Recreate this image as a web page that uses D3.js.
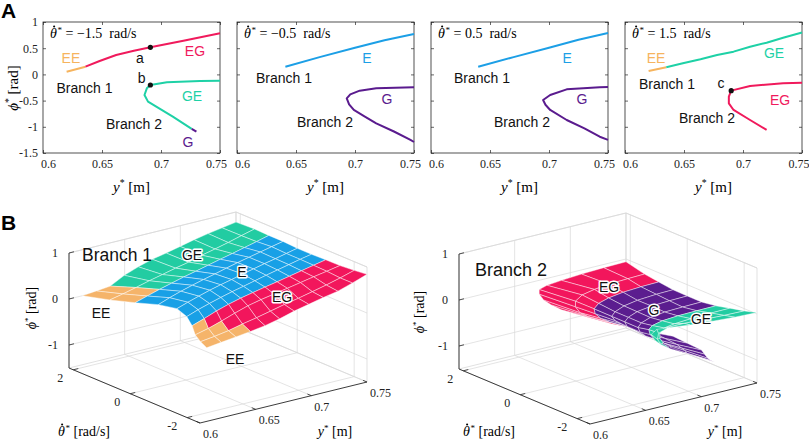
<!DOCTYPE html>
<html>
<head>
<meta charset="utf-8">
<script src="https://cdn.jsdelivr.net/npm/d3@7"></script>
<style>
  body { margin: 0; background: #fff; }
</style>
</head>
<body>
<svg id="fig" width="809" height="441"></svg>
<script>
// ---------- Panel A data (y* [m], phi* [rad]) ----------
const thetaPanels = [-1.5, -0.5, 0.5, 1.5];
const xTicksA = [0.6, 0.65, 0.7, 0.75];
const yTicksA = [1, 0.5, 0, -0.5, -1, -1.5];

const p1EE = [[0.620, 0.052], [0.636, 0.147]];
const p1EG = [[0.636, 0.147], [0.648, 0.256], [0.662, 0.370], [0.677, 0.453], [0.691, 0.517], [0.719, 0.644], [0.750, 0.784]];
const p1GE = [[0.750, -0.120], [0.733, -0.126], [0.705, -0.151], [0.691, -0.202], [0.688, -0.266], [0.686, -0.393], [0.689, -0.520], [0.696, -0.616], [0.710, -0.807], [0.726, -1.040]];
const p1G = [[0.726, -1.040], [0.730, -1.094]];
const p2E = [[0.641, 0.147], [0.670, 0.330], [0.700, 0.510], [0.725, 0.650], [0.750, 0.770]];
const p2G = [[0.750, -0.245], [0.718, -0.266], [0.704, -0.310], [0.696, -0.380], [0.693, -0.456], [0.695, -0.570], [0.699, -0.679], [0.708, -0.800], [0.718, -0.933], [0.733, -1.090], [0.747, -1.250], [0.750, -1.290]];
const p3E = [[0.640, 0.147], [0.670, 0.330], [0.700, 0.510], [0.725, 0.660], [0.750, 0.790]];
const p3G = [[0.750, -0.240], [0.743, -0.246], [0.715, -0.285], [0.701, -0.393], [0.695, -0.489], [0.697, -0.580], [0.701, -0.679], [0.715, -0.870], [0.730, -1.030], [0.743, -1.189], [0.750, -1.250]];
const p4EE = [[0.620, 0.065], [0.635, 0.135]];
const p4GE = [[0.635, 0.135], [0.649, 0.212], [0.664, 0.288], [0.678, 0.370], [0.692, 0.434], [0.706, 0.529], [0.720, 0.605], [0.734, 0.700], [0.750, 0.800]];
const p4EG = [[0.750, -0.158], [0.734, -0.170], [0.706, -0.221], [0.690, -0.310], [0.688, -0.425], [0.688, -0.552], [0.692, -0.679], [0.706, -0.870], [0.720, -1.060]];

const panelSeries = [
  [[p1EE, 'EE'], [p1EG, 'EG'], [p1GE, 'GE'], [p1G, 'G']],
  [[p2E, 'E'], [p2G, 'G']],
  [[p3E, 'E'], [p3G, 'G']],
  [[p4EE, 'EE'], [p4GE, 'GE'], [p4EG, 'EG']]
];

// marked points a, b, c
const markPanel = [0, 0, 3];
const markY = [0.691, 0.691, 0.690];
const markPhi = [0.517, -0.202, -0.310];

// text annotations in panel A (placed in data units)
const annPanel = [0, 0, 0, 0, 0, 0, 0, 0, 1, 1, 1, 1, 2, 2, 2, 2, 3, 3, 3, 3, 3, 3];
const annText = ['EE', 'EG', 'a', 'b', 'Branch 1', 'GE', 'Branch 2', 'G', 'E', 'Branch 1', 'G', 'Branch 2',
  'E', 'Branch 1', 'G', 'Branch 2', 'EE', 'GE', 'Branch 1', 'c', 'EG', 'Branch 2'];
const annY = [0.6237, 0.7288, 0.6822, 0.6836, 0.6352, 0.7263, 0.6771, 0.7229, 0.7102, 0.6398, 0.7271, 0.6746,
  0.7153, 0.6432, 0.728, 0.6771, 0.6263, 0.7263, 0.6356, 0.6814, 0.7314, 0.6695];
const annPhi = [0.313, 0.447, 0.313, -0.069, -0.26, -0.412, -0.947, -1.29, 0.313, -0.069, -0.47, -0.908,
  0.313, -0.069, -0.47, -0.908, 0.313, 0.408, -0.183, -0.164, -0.489, -0.832];

// ---------- Panel B data ----------
const thetaRows = [2.15, 1.5, 1.0, 0.5, 0, -0.5, -1.0, -1.5, -2.0, -2.45];
const zTicksB = [-1, 0, 1];
const tTicksB = [-2, 0, 2];
const yTicksB = [0.6, 0.65, 0.7, 0.75];

// Branch 1: each row starts at b1YStart and runs to 0.75 in 12 even steps
const b1YStart = [0.612, 0.620, 0.630, 0.638, 0.642, 0.638, 0.630, 0.620, 0.612, 0.606];
const b1Phi = [
  [0.00, 0.03, 0.06, 0.22, 0.33, 0.42, 0.48, 0.55, 0.62, 0.68, 0.73, 0.78],
  [0.03, 0.09, 0.16, 0.235, 0.30, 0.37, 0.43, 0.51, 0.575, 0.645, 0.725, 0.80],
  [0.04, 0.12, 0.20, 0.27, 0.34, 0.40, 0.465, 0.53, 0.59, 0.655, 0.72, 0.79],
  [0.08, 0.17, 0.25, 0.32, 0.385, 0.445, 0.51, 0.57, 0.625, 0.68, 0.735, 0.79],
  [0.10, 0.18, 0.255, 0.325, 0.385, 0.44, 0.50, 0.555, 0.61, 0.66, 0.715, 0.77],
  [0.08, 0.17, 0.245, 0.315, 0.38, 0.435, 0.495, 0.555, 0.61, 0.665, 0.72, 0.77],
  [0.06, 0.15, 0.25, 0.33, 0.40, 0.455, 0.51, 0.56, 0.615, 0.67, 0.725, 0.78],
  [0.05, 0.12, 0.21, 0.31, 0.40, 0.465, 0.517, 0.57, 0.625, 0.68, 0.73, 0.784],
  [0.08, 0.12, 0.17, 0.24, 0.30, 0.37, 0.44, 0.50, 0.57, 0.64, 0.72, 0.81],
  [0.10, 0.14, 0.18, 0.22, 0.27, 0.34, 0.43, 0.50, 0.57, 0.63, 0.73, 0.84]
];
// O = EE, B = E, R = EG, T = GE, V = G (one letter per cell)
const b1Region = [
  'OOTTTTTTTTT', 'OOTTTTTTTTT', 'BBBBBBBBBBB', 'BBBBBBBBBBB', 'BBBBBBBBBBB',
  'BBBBBBBBBBB', 'ORRRRRRRRRR', 'OORRRRRRRRR', 'OOORRRRRRRR'
];

// Branch 2: folded curve per row, from the upper end through the fold to the lower end
const b2Y = [
  [0.750, 0.730, 0.710, 0.692, 0.679, 0.672, 0.672, 0.676, 0.683, 0.692, 0.705],
  [0.750, 0.735, 0.718, 0.705, 0.694, 0.688, 0.688, 0.692, 0.699, 0.709, 0.720],
  [0.750, 0.734, 0.718, 0.705, 0.696, 0.692, 0.693, 0.698, 0.706, 0.720, 0.736],
  [0.750, 0.735, 0.718, 0.706, 0.698, 0.695, 0.698, 0.705, 0.715, 0.732, 0.750],
  [0.750, 0.734, 0.718, 0.705, 0.697, 0.694, 0.696, 0.703, 0.713, 0.730, 0.750],
  [0.750, 0.733, 0.717, 0.704, 0.696, 0.693, 0.695, 0.700, 0.711, 0.728, 0.750],
  [0.750, 0.733, 0.716, 0.702, 0.693, 0.690, 0.691, 0.695, 0.703, 0.719, 0.740],
  [0.750, 0.733, 0.715, 0.700, 0.691, 0.687, 0.687, 0.690, 0.697, 0.710, 0.730],
  [0.750, 0.732, 0.713, 0.696, 0.682, 0.673, 0.672, 0.675, 0.683, 0.698, 0.720],
  [0.750, 0.730, 0.710, 0.690, 0.672, 0.660, 0.655, 0.658, 0.667, 0.685, 0.712]
];
const b2Phi = [
  [-0.06, -0.07, -0.09, -0.12, -0.15, -0.20, -0.30, -0.45, -0.60, -0.76, -0.93],
  [-0.158, -0.170, -0.19, -0.225, -0.28, -0.38, -0.50, -0.65, -0.77, -0.90, -1.06],
  [-0.20, -0.21, -0.235, -0.28, -0.345, -0.44, -0.55, -0.68, -0.81, -0.98, -1.16],
  [-0.24, -0.25, -0.28, -0.33, -0.41, -0.49, -0.60, -0.72, -0.87, -1.06, -1.25],
  [-0.245, -0.255, -0.275, -0.32, -0.395, -0.475, -0.585, -0.705, -0.855, -1.05, -1.27],
  [-0.245, -0.255, -0.27, -0.31, -0.38, -0.46, -0.57, -0.69, -0.84, -1.04, -1.29],
  [-0.20, -0.205, -0.215, -0.24, -0.29, -0.36, -0.47, -0.59, -0.73, -0.93, -1.19],
  [-0.12, -0.126, -0.14, -0.165, -0.20, -0.29, -0.40, -0.52, -0.63, -0.81, -1.09],
  [-0.05, -0.04, -0.02, 0.00, 0.00, -0.08, -0.20, -0.33, -0.47, -0.66, -0.95],
  [0.03, 0.05, 0.08, 0.12, 0.17, 0.20, 0.12, -0.02, -0.18, -0.45, -0.82]
];
const b2Region = [
  'RRRRRRRRRR', 'RRRRRRRRRR', 'VVVVVVVVVV', 'VVVVVVVVVV', 'VVVVVVVVVV',
  'VVVVVVVVVV', 'TTTTTTTVVV', 'TTTTTTTVVV', 'TTTTTTTTVV'
];

// ---------- styles ----------
const SERIF = "'Liberation Serif', 'Times New Roman', serif";
const SANS = "'Liberation Sans', Arial, sans-serif";
const AX = '#262626';
const GRID = '#d9d9d9';
const lineColor = { EE: '#F6B45E', E: '#1C9FE6', EG: '#F01A5C', GE: '#1ED1A6', G: '#5A1B8E' };
const cellColor = { O: '#F5B46A', B: '#18A0E6', R: '#F2165C', T: '#22CCA2', V: '#5B1D8F' };

const svg = d3.select('#fig');

// ---------- Panel A ----------
svg.append('text').attr('x', 1).attr('y', 18).text('A')
  .style('font-family', SANS).attr('font-weight', 'bold').attr('font-size', 21);

// math label helper: italic base, raised star, then the rest.
// For theta-dot the dot is a small mark placed over the first glyph.
function mathLabel(sel, base, rest, size, dotted) {
  sel.style('font-family', SERIF).attr('font-size', size).attr('fill', '#000');
  sel.append('tspan').attr('font-style', 'italic').text(base);
  sel.append('tspan').attr('font-size', size * 0.65).attr('dx', dotted ? size * 0.04 : 0)
    .attr('dy', -size * 0.38).text('*');
  sel.append('tspan').attr('dy', size * 0.38).text(rest);
  if (dotted) {
    const node = sel.node();
    const ext = node.getExtentOfChar(0);
    const base0 = node.getStartPositionOfChar(0);
    d3.select(node.parentNode).append('circle')
      .attr('cx', ext.x + ext.width * 0.6)
      .attr('cy', base0.y - size * 0.82)
      .attr('r', size * 0.075)
      .attr('fill', '#000')
      .attr('transform', sel.attr('transform'));
  }
}

const panelX0 = [43, 237, 431, 625];
const panelW = 177, panelTop = 22, panelBottom = 153;

thetaPanels.forEach((th, p) => {
  const x = d3.scaleLinear().domain([0.6, 0.75]).range([panelX0[p], panelX0[p] + panelW]);
  const y = d3.scaleLinear().domain([-1.5, 1]).range([panelBottom, panelTop]);
  const g = svg.append('g');

  const styleAxis = (a, labels) => {
    a.attr('font-family', null);
    a.select('.domain').remove();
    a.selectAll('line').attr('stroke', AX).attr('stroke-width', 0.7);
    a.selectAll('text').style('font-family', SERIF).attr('font-size', 12).attr('fill', '#222');
    if (!labels) a.selectAll('text').remove();
  };
  g.append('g').attr('transform', `translate(0,${panelBottom})`)
    .call(d3.axisBottom(x).tickValues(xTicksA).tickSize(-3).tickSizeOuter(0).tickPadding(6).tickFormat(d => String(d)))
    .call(a => styleAxis(a, true))
    .call(a => {
      // end labels sit slightly inside the box, as in the original
      a.selectAll('text').filter(d => d === 0.6).attr('x', 5);
      if (p === thetaPanels.length - 1) {
        a.selectAll('text').filter(d => d === 0.75).attr('text-anchor', 'end').attr('x', 7);
      } else {
        a.selectAll('text').filter(d => d === 0.75).attr('x', -4);
      }
    });
  g.append('g').attr('transform', `translate(0,${panelTop})`)
    .call(d3.axisTop(x).tickValues(xTicksA).tickSize(-3).tickSizeOuter(0))
    .call(a => styleAxis(a, false));
  g.append('g').attr('transform', `translate(${panelX0[p]},0)`)
    .call(d3.axisLeft(y).tickValues(yTicksA).tickSize(-3).tickSizeOuter(0).tickPadding(5).tickFormat(d => String(d)))
    .call(a => styleAxis(a, p === 0));
  g.append('g').attr('transform', `translate(${panelX0[p] + panelW},0)`)
    .call(d3.axisRight(y).tickValues(yTicksA).tickSize(-3).tickSizeOuter(0))
    .call(a => styleAxis(a, false));

  g.append('rect').attr('x', panelX0[p]).attr('y', panelTop).attr('width', panelW)
    .attr('height', panelBottom - panelTop).attr('fill', 'none').attr('stroke', AX).attr('stroke-width', 0.8);

  const line = d3.line().x(d => x(d[0])).y(d => y(d[1]));
  panelSeries[p].forEach(([pts, kind]) => {
    g.append('path').attr('d', line(pts)).attr('fill', 'none')
      .attr('stroke', lineColor[kind]).attr('stroke-width', 2).attr('stroke-linejoin', 'round');
  });

  markPanel.forEach((mp, i) => {
    if (mp !== p) return;
    g.append('circle').attr('cx', x(markY[i])).attr('cy', y(markPhi[i])).attr('r', 2.6).attr('fill', '#111');
  });

  annPanel.forEach((ap, i) => {
    if (ap !== p) return;
    const t = annText[i];
    const col = lineColor[t] || '#111';
    g.append('text').attr('x', x(annY[i])).attr('y', y(annPhi[i]) + 5)
      .attr('text-anchor', 'middle').style('font-family', SANS).attr('font-size', 14)
      .attr('fill', col).text(t);
  });

  // theta-dot title
  const valTxt = (th < 0 ? '\u2212' : '') + Math.abs(th).toFixed(1);
  const tt = g.append('text').attr('x', panelX0[p] + 7).attr('y', 38);
  mathLabel(tt, 'θ', ` = ${valTxt}\u2002rad/s`, 14, true);

  // x label
  const xl = g.append('text').attr('x', panelX0[p] + panelW / 2).attr('y', 192).attr('text-anchor', 'middle');
  mathLabel(xl, 'y', ' [m]', 15, false);
});

const ylA = svg.append('text').attr('transform', 'translate(18,88) rotate(-90)').attr('text-anchor', 'middle');
mathLabel(ylA, 'ϕ', ' [rad]', 15, false);

// ---------- Panel B (3D, orthographic) ----------
svg.append('text').attr('x', 1).attr('y', 230).text('B')
  .style('font-family', SANS).attr('font-weight', 'bold').attr('font-size', 21);

const uS = d3.scaleLinear().domain([0.6, 0.75]).range([0, 1]);
const vS = d3.scaleLinear().domain([-2.45, 2.15]).range([0, 1]);
const wS = d3.scaleLinear().domain([-1.5, 1]).range([0, 1]);

function projector(ox, oy) {
  const f = (u, v, w) => [ox + 167 * u - 131 * v, oy - 41 * u - 55 * v - 115 * w];
  const depth = (u, v, w) => 120.9 * u + 162.3 * v - 39 * w; // larger = farther
  return {
    f,
    at: (yy, t, z) => f(uS(yy), vS(t), wS(z)),
    depth: (yy, t, z) => depth(uS(yy), vS(t), wS(z))
  };
}

function drawBox(g, pr, lab) {
  const seg = (a, b, col, wdt) => g.append('line')
    .attr('x1', a[0]).attr('y1', a[1]).attr('x2', b[0]).attr('y2', b[1])
    .attr('stroke', col).attr('stroke-width', wdt);
  const f = pr.f;
  // grid on floor and back walls
  yTicksB.forEach(yy => {
    const u = uS(yy);
    seg(f(u, 0, 0), f(u, 1, 0), GRID, 0.7);
    seg(f(u, 1, 0), f(u, 1, 1), GRID, 0.7);
  });
  tTicksB.forEach(t => {
    const v = vS(t);
    seg(f(0, v, 0), f(1, v, 0), GRID, 0.7);
    seg(f(1, v, 0), f(1, v, 1), GRID, 0.7);
  });
  zTicksB.forEach(z => {
    const w = wS(z);
    seg(f(0, 1, w), f(1, 1, w), GRID, 0.7);
    seg(f(1, 1, w), f(1, 0, w), GRID, 0.7);
  });
  // back box edges
  [[[0, 1, 1], [1, 1, 1]], [[1, 1, 1], [1, 0, 1]], [[1, 1, 0], [1, 1, 1]], [[1, 0, 0], [1, 0, 1]],
   [[1, 0, 0], [1, 1, 0]], [[0, 1, 0], [1, 1, 0]]].forEach(([a, b]) => seg(f(...a), f(...b), GRID, 0.8));
  // axes
  seg(f(0, 1, 0), f(0, 1, 1), AX, 0.9);
  seg(f(0, 1, 0), f(0, 0, 0), AX, 0.9);
  seg(f(0, 0, 0), f(1, 0, 0), AX, 0.9);
  const txt = (p, s, anchor) => g.append('text').attr('x', p[0]).attr('y', p[1]).text(s)
    .attr('text-anchor', anchor).style('font-family', SERIF).attr('font-size', 12).attr('fill', '#222');
  zTicksB.forEach(z => {
    const w = wS(z), a = f(0, 1, w);
    seg(a, f(0.03, 1, w), AX, 0.8);
    txt([a[0] - 11, a[1] + 4], String(z), 'end');
  });
  tTicksB.forEach(t => {
    const v = vS(t), a = f(0, v, 0);
    seg(a, f(0.03, v, 0), AX, 0.8);
    txt([a[0] - 10, a[1] + 12], String(t), 'end');
  });
  yTicksB.forEach(yy => {
    const u = uS(yy), a = f(u, 0, 0);
    seg(a, f(u, 0.03, 0), AX, 0.8);
    txt([a[0] + 3, a[1] + 15], String(yy), 'start');
  });
  const zl = g.append('text')
    .attr('transform', `translate(${lab.z[0]},${lab.z[1]}) rotate(-90)`).attr('text-anchor', 'middle');
  mathLabel(zl, 'ϕ', ' [rad]', 14, false);
  const tl = g.append('text').attr('x', lab.t[0]).attr('y', lab.t[1]).attr('text-anchor', 'middle');
  mathLabel(tl, 'θ', ' [rad/s]', 14, true);
  const yl = g.append('text').attr('x', lab.y[0]).attr('y', lab.y[1]).attr('text-anchor', 'middle');
  mathLabel(yl, 'y', ' [m]', 14, false);
}

function drawQuads(g, pr, quads) {
  quads.sort((a, b) => b.depth - a.depth);
  g.selectAll(null).data(quads).join('path')
    .attr('d', q => 'M' + q.pts.map(p => p.join(',')).join('L') + 'Z')
    .attr('fill', q => cellColor[q.code])
    .attr('stroke', '#fff').attr('stroke-width', 0.5).attr('stroke-opacity', 0.85)
    .attr('stroke-linejoin', 'round');
}

function meshQuads(pr, nodeY, nodeZ, region) {
  const quads = [];
  for (let i = 0; i < thetaRows.length - 1; i++) {
    for (let j = 0; j < region[i].length; j++) {
      const corners = [[i, j], [i, j + 1], [i + 1, j + 1], [i + 1, j]];
      const pts = corners.map(([r, c]) => pr.at(nodeY(r, c), thetaRows[r], nodeZ(r, c)));
      const depth = d3.mean(corners, ([r, c]) => pr.depth(nodeY(r, c), thetaRows[r], nodeZ(r, c)));
      quads.push({ pts, depth, code: region[i][j] });
    }
  }
  return quads;
}

const haloLabel = (g, x, y, s, size, halo) => {
  const t = g.append('text').attr('x', x).attr('y', y).text(s).attr('text-anchor', 'middle')
    .style('font-family', SANS).attr('font-size', size).attr('fill', '#111');
  if (halo) t.attr('stroke', '#fff').attr('stroke-width', 3).attr('paint-order', 'stroke')
    .attr('stroke-linejoin', 'round');
};

// Branch 1
{
  const g = svg.append('g');
  const pr = projector(200, 423);
  drawBox(g, pr, { z: [36, 308], t: [84, 436], y: [335, 436] });
  const n = b1Phi[0].length;
  const nodeY = (r, c) => b1YStart[r] + (0.75 - b1YStart[r]) * c / (n - 1);
  const nodeZ = (r, c) => b1Phi[r][c];
  drawQuads(g, pr, meshQuads(pr, nodeY, nodeZ, b1Region));
  haloLabel(g, 117, 261, 'Branch 1', 17.5, false);
  haloLabel(g, 192, 260, 'GE', 14, true);
  haloLabel(g, 242, 277, 'E', 14, true);
  haloLabel(g, 282, 302, 'EG', 14, true);
  haloLabel(g, 101, 318, 'EE', 14, false);
  haloLabel(g, 235, 364, 'EE', 14, false);
}

// Branch 2
{
  const g = svg.append('g');
  const pr = projector(590, 424);
  drawBox(g, pr, { z: [424, 312], t: [489, 436], y: [725, 436] });
  const nodeY = (r, c) => b2Y[r][c];
  const nodeZ = (r, c) => b2Phi[r][c];
  drawQuads(g, pr, meshQuads(pr, nodeY, nodeZ, b2Region));
  haloLabel(g, 511, 276, 'Branch 2', 18, false);
  haloLabel(g, 609, 292, 'EG', 14, true);
  haloLabel(g, 654, 315, 'G', 14, true);
  haloLabel(g, 701, 324, 'GE', 14, true);
}
</script>
</body>
</html>
